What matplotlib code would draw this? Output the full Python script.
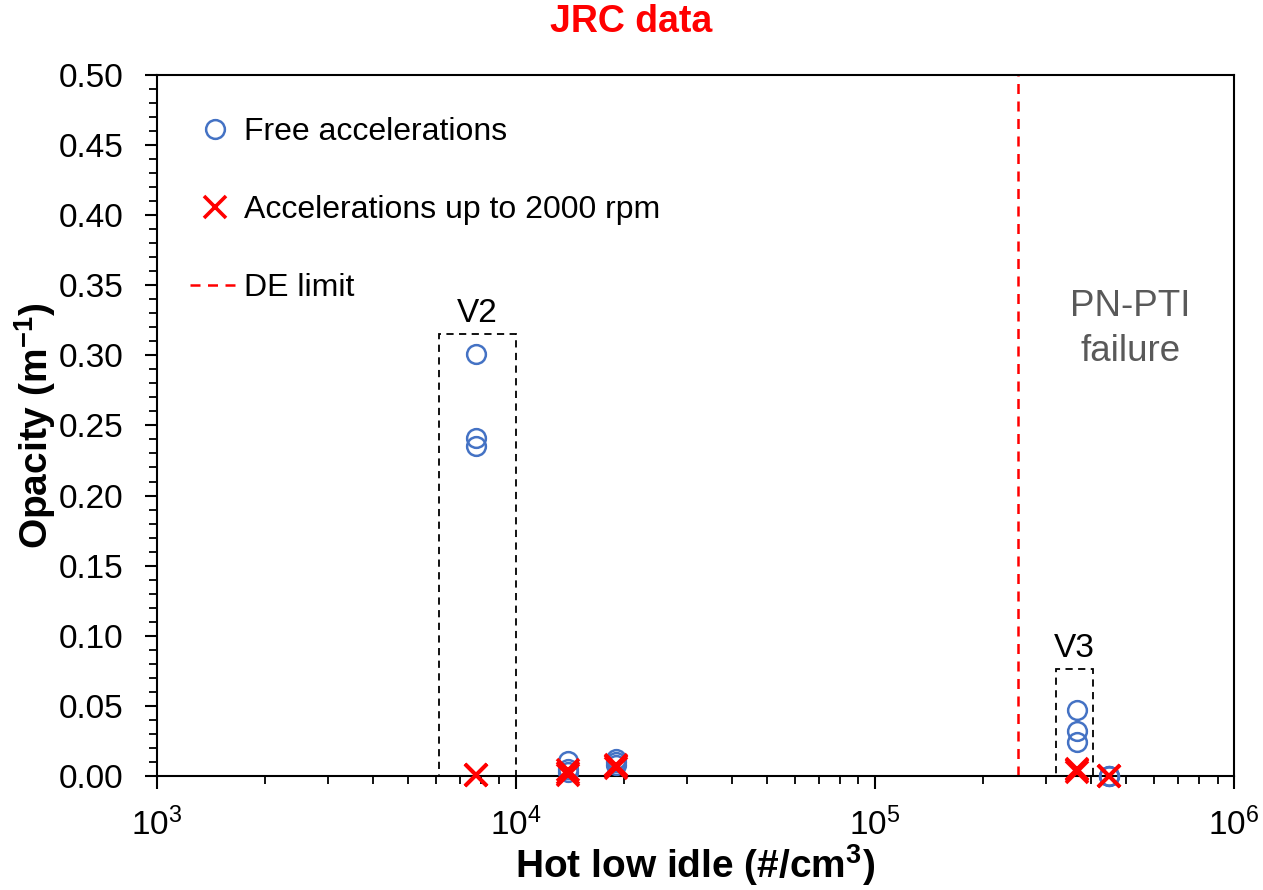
import matplotlib.pyplot as plt
from matplotlib.patches import Rectangle

plt.rcParams['font.family'] = ['Liberation Sans', 'DejaVu Sans']
plt.rcParams['mathtext.fontset'] = 'custom'
plt.rcParams['mathtext.rm'] = 'Liberation Sans'
plt.rcParams['mathtext.bf'] = 'Liberation Sans:bold'
plt.rcParams['mathtext.it'] = 'Liberation Sans:italic'

# hot low idle PN (#/cm3) per measurement
free_x = [7.75e3, 7.75e3, 7.75e3, 1.4e4, 1.4e4, 1.4e4, 1.9e4, 1.9e4, 1.9e4,
          3.66e5, 3.66e5, 3.66e5, 4.5e5, 4.5e5, 4.5e5]
free_y = [0.301, 0.241, 0.235, 0.011, 0.005, 0.003, 0.012, 0.010, 0.008,
          0.047, 0.032, 0.024, 0.0, 0.0, 0.0]
acc_x = free_x
acc_y = [0.001, 0.001, 0.001, 0.004, 0.002, 0.001, 0.008, 0.006, 0.007,
         0.005, 0.004, 0.003, 0.0, 0.0, 0.0]
de_limit = 2.5e5

# dashed boxes: (x0, x1, y top, label)
boxes = [(6.1e3, 1.0e4, 0.315, 'V2'), (3.2e5, 4.05e5, 0.076, 'V3')]

blue = '#4472C4'
red = '#FF0000'

fig = plt.figure(figsize=(12.63, 8.90), dpi=100)
ax = fig.add_axes([0.124, 0.128, 0.853, 0.788])

ax.plot(free_x, free_y, 'o', ls='none', mfc='none', mec=blue, ms=13.5, mew=1.8,
        clip_on=False, label='Free accelerations', zorder=3)
ax.plot(acc_x, acc_y, 'x', ls='none', color=red, ms=16, mew=2.6,
        clip_on=False, label='Accelerations up to 2000 rpm', zorder=4)
ax.axvline(de_limit, color=red, ls=(0, (4, 3)), lw=1.8, label='DE limit')

for x0, x1, top, name in boxes:
    ax.add_patch(Rectangle((x0, 0), x1 - x0, top, fill=False, ec='black',
                           ls=(0, (4, 3)), lw=1.3, zorder=2))
    xm = (x0 * x1) ** 0.5
    ax.text(xm, top + 0.004, name, ha='center', va='bottom', fontsize=24)

ax.text(5.15e5, 0.3185, 'PN-PTI\nfailure', ha='center', va='center',
        fontsize=26.5, color='#595959', linespacing=1.38)

ax.set_xscale('log')
ax.set_xlim(1e3, 1e6)
ax.set_ylim(0, 0.5)
ax.set_yticks([i * 0.05 for i in range(11)])
ax.set_yticks([i * 0.01 for i in range(51)], minor=True)
ax.yaxis.set_major_formatter(plt.FuncFormatter(lambda v, p: f'{v:.2f}'))
ax.tick_params(axis='both', which='major', direction='out', length=9,
               width=1.5, labelsize=24)
ax.tick_params(axis='both', which='minor', direction='out', length=6, width=1.3)
ax.tick_params(axis='y', which='major', pad=15)
ax.tick_params(axis='x', which='major', pad=14)
for s in ax.spines.values():
    s.set_linewidth(1.5)

ax.set_xlabel('Hot low idle (#/cm$^{\\mathbf{3}}$)', fontsize=28,
              fontweight='bold', labelpad=0)
ax.set_ylabel('Opacity (m$^{\\mathbf{-1}}$)', fontsize=28, fontweight='bold',
              labelpad=0)
fig.text(0.5, 0.975, 'JRC data', ha='center', va='center', fontsize=27,
         fontweight='bold', color=red)

ax.legend(loc='upper left', bbox_to_anchor=(0.013, 0.967), frameon=False,
          fontsize=23, labelspacing=1.5, handlelength=1.55, handletextpad=0.15,
          borderaxespad=0.2)

fig.savefig('out.png', dpi=100)
